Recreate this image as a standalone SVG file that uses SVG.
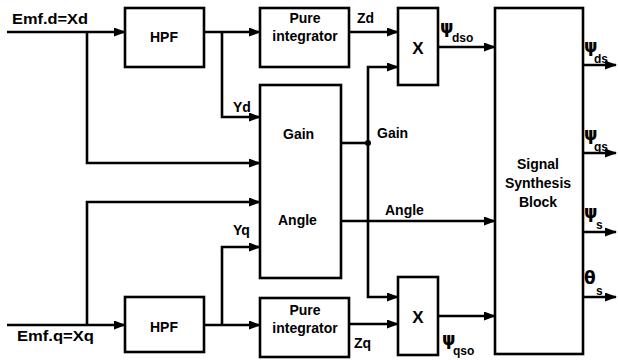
<svg xmlns="http://www.w3.org/2000/svg" width="618" height="360" viewBox="0 0 618 360">
<defs>
<marker id="ah" markerUnits="userSpaceOnUse" markerWidth="12" markerHeight="9" refX="11" refY="4.5" orient="auto">
<path d="M0,0 L12,4.5 L0,9 z" fill="#000"/>
</marker>
<style>
.box{fill:#fff;stroke:#000;stroke-width:2.6}
.ln{fill:none;stroke:#000;stroke-width:2.6}
.ar{fill:none;stroke:#000;stroke-width:2.6;marker-end:url(#ah)}
text{font-family:"Liberation Sans",Arial,sans-serif;font-weight:bold;font-size:14px;fill:#000}
.c{text-anchor:middle}
.sub{font-size:12px}
.gr{font-family:"DejaVu Sans","Liberation Sans",sans-serif;font-size:17px;font-weight:bold}
</style>
</defs>
<rect width="618" height="360" fill="#fff"/>
<g id="connectors">
<path class="ar" d="M7,32 H125"/>
<path class="ar" d="M87,32 V163 H260"/>
<path class="ar" d="M204,32 H260"/>
<path class="ar" d="M222,32 V117 H260"/>
<path class="ar" d="M349,32 H398"/>
<path class="ln" d="M341,143 H368"/>
<path class="ar" d="M368,143 V67 H398"/>
<path class="ar" d="M368,143 V297 H398"/>
<circle cx="368" cy="143" r="3" fill="#000"/>
<path class="ar" d="M438,47 H495"/>
<path class="ar" d="M341,221 H495"/>
<path class="ar" d="M7,325 H125"/>
<path class="ar" d="M87,325 V202 H260"/>
<path class="ar" d="M204,325 H260"/>
<path class="ar" d="M222,325 V247 H260"/>
<path class="ar" d="M349,324 H398"/>
<path class="ar" d="M438,316 H495"/>
<path class="ar" d="M583,65 H616"/>
<path class="ar" d="M583,153 H616"/>
<path class="ar" d="M583,232 H616"/>
<path class="ar" d="M583,297 H616"/>
</g>
<g id="hpf_d"><rect class="box" x="125" y="8" width="79" height="59"/><text class="c" x="164" y="42">HPF</text></g>
<g id="pi_d"><rect class="box" x="260" y="8" width="89" height="59"/><text class="c" x="305" y="23">Pure</text><text class="c" x="305" y="41">integrator</text></g>
<g id="gain_angle"><rect class="box" x="260" y="85" width="81" height="193"/><text x="283" y="139">Gain</text><text x="278" y="225">Angle</text></g>
<g id="mult_d"><rect class="box" x="398" y="8" width="40" height="77"/><text class="c" x="418" y="54" style="font-size:17px">X</text></g>
<g id="signal"><rect class="box" x="495" y="8" width="88" height="346"/><text class="c" x="538" y="169">Signal</text><text class="c" x="538" y="188">Synthesis</text><text class="c" x="538" y="207">Block</text></g>
<g id="mult_q"><rect class="box" x="398" y="277" width="40" height="78"/><text class="c" x="418" y="323" style="font-size:17px">X</text></g>
<g id="pi_q"><rect class="box" x="260" y="298" width="89" height="59"/><text class="c" x="305" y="315">Pure</text><text class="c" x="305" y="333">integrator</text></g>
<g id="hpf_q"><rect class="box" x="125" y="297" width="79" height="55"/><text class="c" x="164" y="332">HPF</text></g>
<g id="labels">
<text x="12" y="24" textLength="76" lengthAdjust="spacingAndGlyphs">Emf.d=Xd</text>
<text x="17" y="341" textLength="77" lengthAdjust="spacingAndGlyphs">Emf.q=Xq</text>
<text x="357" y="23">Zd</text>
<text x="354" y="348">Zq</text>
<text x="233" y="112">Yd</text>
<text x="233" y="235">Yq</text>
<text x="377" y="138">Gain</text>
<text x="385" y="215">Angle</text>
<text class="gr" x="440" y="33">ψ</text><text class="sub" x="452" y="42">dso</text>
<text class="gr" x="442" y="345">ψ</text><text class="sub" x="453" y="355">qso</text>
<text class="gr" x="584" y="52">ψ</text><text class="sub" x="594" y="63">ds</text>
<text class="gr" x="584" y="140">ψ</text><text class="sub" x="594" y="151">qs</text>
<text class="gr" x="584" y="218">ψ</text><text class="sub" x="596" y="229">s</text>
<text class="gr" x="584" y="284">θ</text><text class="sub" x="596" y="295">s</text>
</g>
</svg>
